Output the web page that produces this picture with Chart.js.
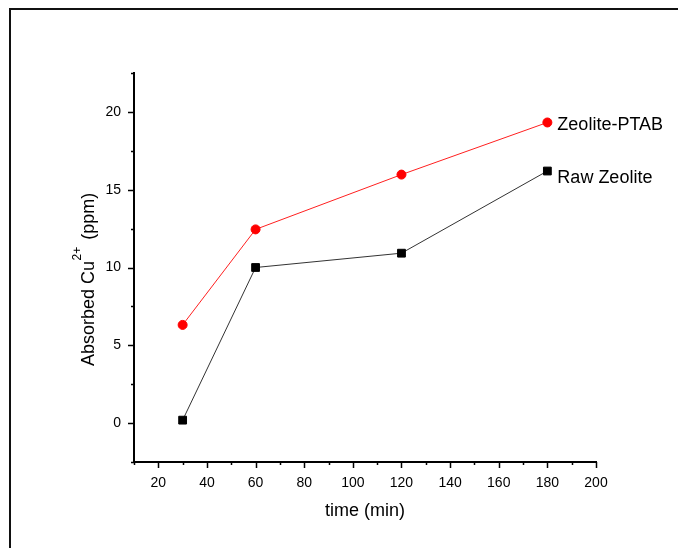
<!DOCTYPE html>
<html><head><meta charset="utf-8">
<script src="https://cdn.jsdelivr.net/npm/chart.js@4"></script>
<style>html,body{margin:0;padding:0;background:#fff}#wrap{width:678px;height:548px;position:relative}</style>
</head><body><div id="wrap"><canvas id="c" width="678" height="548"></canvas></div>
<script>
// ---- data ----
const timeMin = [30, 60, 120, 180];
const zeolitePTAB = [6.31, 12.45, 15.97, 19.32];
const rawZeolite = [0.19, 10.0, 10.92, 16.2];
const seriesNames = ['Zeolite-PTAB', 'Raw Zeolite'];
const xTitle = 'time (min)';
const yTitleParts = ['Absorbed Cu', '2+', ' (ppm)'];
const xRange = [10, 200];
const xTickStep = 10;
const xLabelStep = 20;
const yRange = [-2.5, 22.5];
const yTickStep = 2.5;
const yLabelStep = 5;

const FONT = '"Liberation Sans", Arial, sans-serif';
const isMult = (v, s) => Math.abs(v / s - Math.round(v / s)) < 1e-6;

const decor = {
  id: 'decor',
  beforeDraw(chart) {
    const ctx = chart.ctx;
    ctx.save();
    ctx.fillStyle = '#fff';
    ctx.fillRect(0, 0, chart.width, chart.height);
    ctx.strokeStyle = '#111';
    ctx.lineWidth = 2;
    ctx.strokeRect(10, 9, 900, 800);
    ctx.restore();
  },
  afterDraw(chart) {
    const ctx = chart.ctx;
    const xs = chart.scales.x, ys = chart.scales.y;
    const ca = chart.chartArea;
    ctx.save();
    ctx.strokeStyle = '#000';
    ctx.lineWidth = 1.5;
    ctx.beginPath();
    xs.ticks.forEach(t => {
      const px = Math.round(xs.getPixelForValue(t.value)) + 0.5;
      const len = isMult(t.value, xLabelStep) ? 6 : 3;
      ctx.moveTo(px, ca.bottom);
      ctx.lineTo(px, ca.bottom + len);
    });
    ys.ticks.forEach(t => {
      const py = Math.round(ys.getPixelForValue(t.value)) + 0.5;
      const len = isMult(t.value, yLabelStep) ? 6 : 3;
      ctx.moveTo(ca.left, py);
      ctx.lineTo(ca.left - len, py);
    });
    ctx.stroke();

    // axis titles
    ctx.fillStyle = '#000';
    ctx.font = '18px ' + FONT;
    ctx.textAlign = 'center';
    ctx.textBaseline = 'alphabetic';
    ctx.fillText(xTitle, (ca.left + ca.right) / 2, 516);

    ctx.save();
    ctx.translate(94, 366);
    ctx.rotate(-Math.PI / 2);
    ctx.textAlign = 'left';
    ctx.font = '18px ' + FONT;
    let x = 0;
    ctx.fillText(yTitleParts[0], x, 0);
    x += ctx.measureText(yTitleParts[0]).width + 0.5;
    ctx.font = '12px ' + FONT;
    ctx.fillText(yTitleParts[1], x, -13);
    x += ctx.measureText(yTitleParts[1]).width + 2;
    ctx.font = '18px ' + FONT;
    ctx.fillText(yTitleParts[2], x, 0);
    ctx.restore();

    // series labels
    ctx.font = '18px ' + FONT;
    ctx.textAlign = 'left';
    const offs = [8, 12];
    chart.data.datasets.forEach((ds, i) => {
      const meta = chart.getDatasetMeta(i);
      const last = meta.data[meta.data.length - 1];
      ctx.fillText(seriesNames[i], last.x + 10, last.y + offs[i]);
    });
    ctx.restore();
  }
};

new Chart(document.getElementById('c'), {
  type: 'scatter',
  data: {
    datasets: [
      {
        label: seriesNames[0],
        data: timeMin.map((t, i) => ({x: t, y: zeolitePTAB[i]})),
        showLine: true,
        borderColor: '#ff2020',
        borderWidth: 1,
        pointStyle: 'circle',
        pointRadius: 4.5,
        pointBorderWidth: 1,
        pointBackgroundColor: '#ff0000',
        pointBorderColor: '#ff0000'
      },
      {
        label: seriesNames[1],
        data: timeMin.map((t, i) => ({x: t, y: rawZeolite[i]})),
        showLine: true,
        borderColor: '#333',
        borderWidth: 1,
        pointStyle: 'rect',
        pointRadius: 5.5,
        pointBorderWidth: 1,
        pointBackgroundColor: '#000',
        pointBorderColor: '#000'
      }
    ]
  },
  options: {
    responsive: false,
    animation: false,
    devicePixelRatio: 1,
    layout: {padding: {left: 0, right: 82, top: 73, bottom: 0}},
    plugins: {legend: {display: false}, tooltip: {enabled: false}},
    scales: {
      x: {
        type: 'linear',
        min: xRange[0], max: xRange[1],
        afterFit(s) { s.height = 86; },
        grid: {display: false},
        border: {display: true, color: '#000', width: 2},
        ticks: {
          stepSize: xTickStep, autoSkip: false, maxRotation: 0,
          padding: 5, color: '#000',
          font: {family: FONT, size: 14},
          callback: v => isMult(v, xLabelStep) ? String(v) : ''
        }
      },
      y: {
        type: 'linear',
        min: yRange[0], max: yRange[1],
        afterFit(s) { s.width = 134; },
        grid: {display: false},
        border: {display: true, color: '#000', width: 2},
        ticks: {
          stepSize: yTickStep, autoSkip: false,
          padding: 5, color: '#000',
          font: {family: FONT, size: 14},
          callback: v => isMult(v, yLabelStep) ? String(v) : ''
        }
      }
    }
  },
  plugins: [decor]
});
</script></body></html>
